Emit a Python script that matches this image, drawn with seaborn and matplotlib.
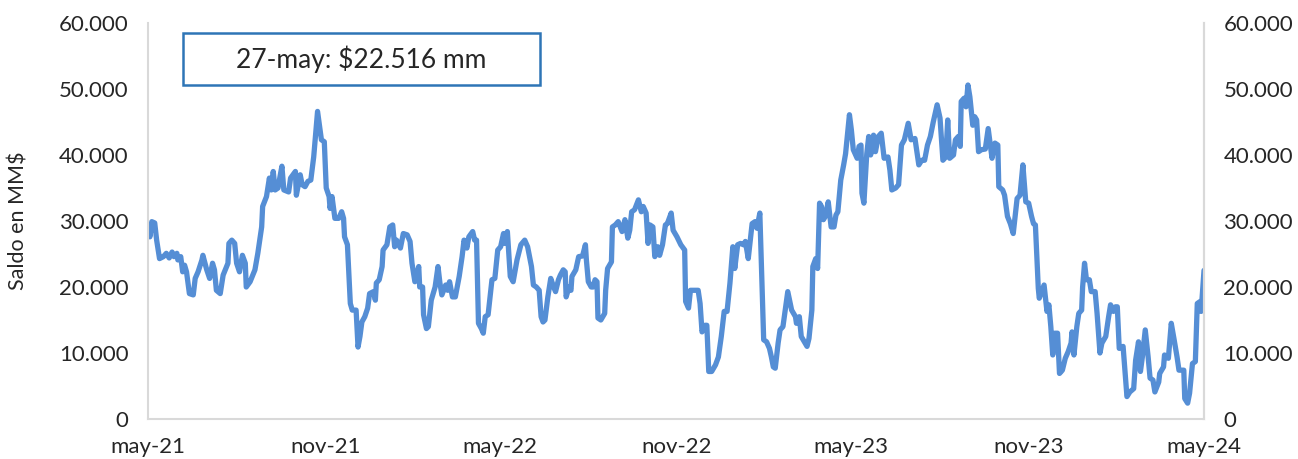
import numpy as np
import pandas as pd
import seaborn as sns
import matplotlib
matplotlib.use('Agg')
from matplotlib import pyplot as plt
from matplotlib.patches import Rectangle

# days counted from 27-may-2021, saldo in thousands of MM$
inicio = "2021-05-27"
dias = [0, 2, 4, 7, 9, 12, 16, 19, 22, 25, 27, 30, 31, 34, 36, 38, 40, 43, 47, 49,
        52, 56, 57, 61, 64, 67, 69, 71, 75, 78, 83, 84, 87, 90, 92, 95, 98, 101, 102, 106,
        111, 114, 118, 119, 123, 126, 128, 130, 132, 135, 137, 139, 141, 146, 148, 153, 154, 158, 160, 163,
        166, 169, 172, 176, 180, 183, 185, 188, 189, 191, 194, 198, 201, 203, 204, 207, 210, 212, 216, 218,
        220, 222, 225, 228, 230, 234, 236, 237, 240, 243, 244, 248, 251, 254, 256, 258, 262, 265, 269, 272,
        274, 277, 281, 282, 285, 286, 289, 291, 294, 298, 301, 303, 305, 309, 311, 313, 316, 319, 323, 326,
        328, 331, 333, 337, 339, 341, 343, 346, 348, 350, 353, 357, 360, 363, 366, 369, 370, 373, 376, 379,
        383, 387, 391, 394, 398, 400, 403, 406, 408, 410, 412, 415, 418, 421, 423, 426, 428, 431, 433, 434,
        437, 439, 440, 444, 447, 451, 454, 455, 457, 460, 462, 464, 466, 467, 470, 474, 475, 477, 481, 482,
        485, 488, 492, 495, 498, 500, 502, 505, 509, 512, 514, 517, 519, 521, 524, 526, 529, 531, 534, 537,
        539, 543, 545, 549, 553, 557, 558, 561, 563, 566, 571, 573, 575, 578, 580, 582, 585, 589, 592, 595,
        598, 601, 604, 607, 609, 612, 615, 618, 620, 623, 627, 630, 632, 635, 639, 642, 645, 647, 649, 651,
        654, 656, 659, 664, 668, 672, 673, 676, 678, 684, 686, 689, 690, 693, 695, 697, 699, 701, 703, 706,
        709, 712, 714, 716, 719, 722, 724, 728, 730, 732, 736, 738, 740, 741, 743, 746, 748, 750, 753, 755,
        758, 761, 764, 768, 770, 772, 776, 779, 782, 785, 789, 792, 796, 800, 803, 806, 809, 812, 815, 819,
        822, 825, 828, 830, 832, 836, 838, 841, 843, 844, 847, 849, 851, 853, 856, 858, 860, 862, 865, 869,
        872, 876, 879, 882, 883, 887, 889, 892, 895, 898, 902, 905, 908, 911, 914, 917, 919, 921, 924, 925,
        928, 930, 933, 935, 937, 939, 941, 944, 946, 949, 952, 955, 958, 959, 961, 964, 966, 969, 970, 972,
        974, 977, 979, 983, 985, 988, 990, 994, 997, 999, 1002, 1004, 1006, 1008, 1012, 1016, 1019, 1023, 1025, 1028,
        1030, 1032, 1035, 1038, 1040, 1043, 1045, 1049, 1050, 1054, 1055, 1059, 1062, 1065, 1068, 1070, 1073, 1075, 1076, 1079,
        1081, 1084, 1087, 1089, 1092, 1093, 1096]
saldo = [29.4, 27.6, 29.9, 29.7, 27.1, 24.3, 24.6, 25.1, 24.4, 25.3, 24.6, 25.1, 24.1, 24.6, 22.3, 23.3, 22.3, 19.0, 18.8, 21.3,
         22.3, 24.1, 24.8, 22.6, 21.3, 23.6, 22.6, 19.5, 19.0, 21.8, 23.6, 26.6, 27.1, 26.6, 23.6, 22.3, 24.8, 23.6, 20.0, 20.8,
         22.6, 25.1, 29.1, 32.2, 33.7, 36.5, 34.7, 37.5, 34.7, 35.0, 36.7, 38.3, 34.7, 34.4, 36.5, 37.5, 33.9, 37.0, 35.5, 35.2,
         36.0, 36.2, 39.7, 46.6, 42.3, 42.0, 35.0, 33.7, 31.9, 33.7, 30.4, 30.4, 31.4, 30.4, 27.6, 26.4, 17.5, 16.5, 16.5, 10.9,
         12.5, 14.7, 15.5, 16.8, 19.0, 19.3, 18.0, 20.6, 21.1, 23.1, 25.6, 26.4, 29.1, 29.4, 26.1, 27.1, 25.9, 28.1, 27.9, 26.9,
         23.6, 20.8, 23.1, 20.0, 20.0, 15.8, 13.7, 14.0, 18.0, 20.0, 23.1, 20.6, 18.8, 20.3, 19.5, 20.8, 18.5, 18.5, 21.6, 24.6,
         27.1, 25.9, 27.6, 28.4, 27.1, 27.1, 14.5, 13.7, 13.0, 15.5, 15.8, 21.1, 21.3, 25.6, 26.1, 28.1, 26.6, 28.4, 21.6, 20.8,
         24.1, 26.4, 27.1, 26.1, 23.1, 20.3, 20.0, 19.5, 15.5, 14.7, 15.0, 18.5, 21.3, 20.0, 19.3, 21.1, 21.8, 22.6, 22.3, 18.5,
         20.0, 19.5, 21.6, 22.6, 24.6, 24.7, 26.4, 24.1, 20.8, 20.0, 20.0, 21.1, 20.8, 15.3, 15.0, 16.0, 19.5, 22.8, 23.8, 29.1,
         29.4, 29.9, 28.4, 30.2, 27.4, 28.6, 31.4, 31.7, 33.2, 31.4, 32.2, 31.2, 26.6, 29.4, 29.1, 24.6, 26.1, 24.8, 26.4, 29.4,
         29.6, 31.2, 28.6, 27.6, 26.4, 25.6, 17.8, 16.8, 19.5, 19.5, 19.5, 17.5, 13.2, 14.2, 14.2, 7.2, 7.2, 8.2, 9.4, 12.5,
         16.3, 16.3, 20.6, 26.1, 22.8, 26.4, 26.6, 26.4, 26.9, 24.3, 29.6, 29.9, 28.9, 31.2, 12.0, 11.7, 10.7, 9.4, 7.9, 7.7,
         11.5, 13.5, 14.0, 19.3, 16.5, 15.5, 14.5, 15.5, 12.5, 11.0, 12.2, 16.5, 23.1, 24.3, 22.8, 32.7, 32.2, 30.2, 30.7, 32.9,
         29.1, 29.1, 30.9, 31.4, 36.2, 38.5, 40.2, 46.1, 43.8, 40.8, 39.5, 41.3, 41.5, 34.2, 32.7, 40.2, 42.8, 40.0, 43.0, 40.5,
         42.8, 43.3, 39.5, 39.7, 37.7, 34.7, 35.0, 35.5, 41.5, 42.3, 44.8, 42.3, 42.5, 38.5, 39.2, 39.2, 41.5, 42.8, 45.0, 47.6,
         45.6, 39.2, 39.7, 45.3, 39.5, 40.0, 42.3, 42.8, 41.3, 48.1, 48.6, 47.3, 50.6, 48.8, 44.5, 45.8, 45.3, 40.5, 40.8, 40.9,
         44.0, 39.5, 41.8, 41.5, 35.2, 34.7, 33.9, 30.7, 29.6, 28.1, 33.4, 33.9, 38.5, 32.9, 32.7, 30.7, 29.6, 29.4, 19.8, 18.3,
         19.5, 20.3, 16.3, 17.3, 14.0, 9.7, 13.0, 13.0, 6.9, 7.4, 9.2, 10.2, 11.5, 13.2, 9.7, 14.0, 16.0, 16.5, 20.0, 23.6,
         21.1, 21.1, 19.3, 19.3, 16.0, 10.0, 11.5, 12.5, 15.5, 17.3, 16.3, 17.0, 17.0, 10.7, 11.0, 3.4, 4.1, 4.6, 8.9, 11.7,
         7.2, 9.4, 13.5, 9.4, 6.2, 5.9, 4.1, 5.6, 6.9, 7.9, 9.7, 9.2, 14.5, 12.0, 9.4, 7.4, 7.4, 7.4, 3.1, 2.4,
         3.9, 8.4, 8.7, 17.5, 17.8, 16.3, 22.516]

meses = ["ene", "feb", "mar", "abr", "may", "jun", "jul", "ago", "sep", "oct", "nov", "dic"]
y_ticks = [0, 10000, 20000, 30000, 40000, 50000, 60000]
y_labels = ["0", "10.000", "20.000", "30.000", "40.000", "50.000", "60.000"]
nota = "27-may: $22.516 mm"

df = pd.DataFrame({
    "fecha": pd.Timestamp(inicio) + pd.to_timedelta(dias, unit="D"),
    "saldo": np.array(saldo) * 1000,
})

sns.set_style("white")
plt.rcParams['font.family'] = ['Lato', 'DejaVu Sans']

fig = plt.figure(figsize=(12.98, 4.59), dpi=100)
ax = fig.add_axes([0.114, 0.0871, 0.8136, 0.8629])
sns.lineplot(data=df, x="fecha", y="saldo", ax=ax, color="#558ED5", linewidth=3.8)

ax.set_xlim(df["fecha"].iloc[0], df["fecha"].iloc[-1])
ax.set_ylim(0, 60000)

xt = pd.date_range(inicio, periods=13, freq=pd.DateOffset(months=3))
ax.set_xticks(xt)
ax.set_xticklabels([meses[d.month - 1] + "-" + d.strftime("%y") if i % 2 == 0 else ""
                    for i, d in enumerate(xt)])
ax.set_yticks(y_ticks)
ax.set_yticklabels(y_labels)
ax.tick_params(axis="x", length=5, color="#D9D9D9", labelsize=16, pad=8, labelcolor="#262626")
ax.tick_params(axis="y", length=0, labelsize=16, pad=14, labelcolor="#262626")
ax.set_xlabel("")
ax.set_ylabel("Saldo en MM$", fontsize=15.5, color="#262626", labelpad=22)

for s in ["left", "right", "bottom"]:
    ax.spines[s].set_color("#D9D9D9")
    ax.spines[s].set_linewidth(1.5)
ax.spines["top"].set_visible(False)

ax2 = ax.twinx()
ax2.set_ylim(0, 60000)
ax2.set_yticks(y_ticks)
ax2.set_yticklabels(y_labels)
ax2.tick_params(axis="y", length=0, labelsize=16, pad=14, labelcolor="#262626")
for s in ["left", "top", "bottom"]:
    ax2.spines[s].set_visible(False)
ax2.spines["right"].set_color("#D9D9D9")
ax2.spines["right"].set_linewidth(1.5)

ax.add_patch(Rectangle((0.033, 0.843), 0.338, 0.132, transform=ax.transAxes,
                       facecolor="white", edgecolor="#2E75B6", linewidth=1.8, zorder=5))
ax.text(0.202, 0.909, nota, transform=ax.transAxes, ha="center", va="center",
        fontsize=19, color="#262626", zorder=6)

plt.savefig("out.png", dpi=100)
plt.close()
